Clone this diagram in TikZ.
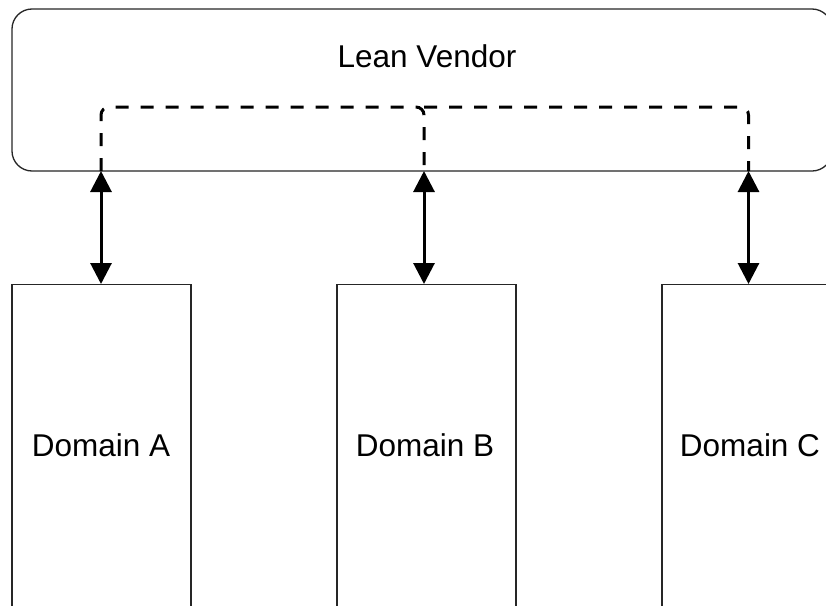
\documentclass[tikz,border=0pt]{standalone}
\usepackage{fontspec}
\setmainfont{Liberation Sans}
\usetikzlibrary{arrows.meta}

\tikzset{
  box/.style={draw=black!85, line width=1.3pt, fill=white, inner sep=0pt},
  vendorbox/.style={box, rounded corners=20pt, minimum width=820pt, minimum height=162pt},
  domainbox/.style={box, minimum width=179pt, minimum height=380pt},
  lbl/.style={font=\fontsize{31.5}{36}\selectfont, inner sep=0pt, anchor=base},
  link/.style={line width=3pt, {Triangle[length=21pt,width=21pt]}-{Triangle[length=21pt,width=21pt]}},
  bus/.style={line width=3pt, dash pattern=on 13pt off 12pt, rounded corners=8pt}
}

\begin{document}
\begin{tikzpicture}[x=1pt, y=-1pt]
  \useasboundingbox (0,0) rectangle (826,605);
  \clip (0,0) rectangle (826,605);

  % upper vendor block
  \node[vendorbox] (vendor) at (422,90) {};
  \node[lbl] (vendorlabel) at (427,67.3) {Lean Vendor};

  % three domain columns, running off the bottom edge
  \node[domainbox, anchor=north] (A) at (101.5,284) {};
  \node[domainbox, anchor=north] (B) at (426.5,284) {};
  \node[domainbox, anchor=north] (C) at (751.5,284) {};
  \node[lbl] (Alabel) at (101,456.7) {Domain A};
  \node[lbl] (Blabel) at (425,456.7) {Domain B};
  \node[lbl] (Clabel) at (750,456.7) {Domain C};

  % attachment points on the vendor's lower edge
  \coordinate (pa) at (101,171);
  \coordinate (pb) at (424,171);
  \coordinate (pc) at (748.5,171);
  \coordinate (ta) at (101,107);
  \coordinate (tb) at (424,107);
  \coordinate (tc) at (748.5,107);

  % dashed internal bus
  \draw[bus] (pa) -- (ta) -- (tb) -- (pb);
  \draw[bus] (tb) -- (tc) -- (pc);

  % two-way links between vendor and domains
  \draw[link] (pa) -- (pa |- A.north);
  \draw[link] (pb) -- (pb |- B.north);
  \draw[link] (pc) -- (pc |- C.north);
\end{tikzpicture}
\end{document}
